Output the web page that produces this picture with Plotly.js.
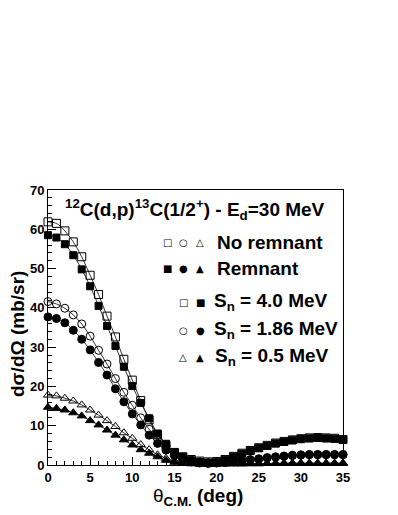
<!DOCTYPE html>
<html>
<head>
<meta charset="utf-8">
<script src="https://cdn.plot.ly/plotly-3.0.1.min.js"></script>
<style>
  html, body { margin: 0; padding: 0; background: #fff; }
  #plot { width: 398px; height: 515px; }
</style>
</head>
<body>
<div id="plot"></div>
<script>
// angles (deg, C.M.)
const theta = [0, 1, 2, 3, 4, 5, 6, 7, 8, 9, 10, 11, 12, 13, 14, 15, 16, 17,
  18, 19, 20, 21, 22, 23, 24, 25, 26, 27, 28, 29, 30, 31, 32, 33, 34, 35];

// S_n = 4.0 MeV
const noRem40 = [61.9, 61.5, 59.6, 56.8, 53.0, 48.3, 43.4, 37.9, 32.6, 26.9, 21.6, 16.4,
  11.5, 7.8, 5.0, 3.2, 2.1, 1.4, 1.0, 0.8, 0.9, 1.4, 2.2, 3.0, 3.7, 4.4, 5.0, 5.6,
  6.0, 6.4, 6.7, 6.9, 7.0, 6.9, 6.8, 6.5];
const rem40 = [58.5, 57.9, 56.2, 53.4, 49.8, 45.5, 40.5, 35.4, 30.3, 25.0, 20.1, 15.8,
  11.9, 8.0, 5.4, 3.3, 2.0, 1.2, 0.8, 0.6, 0.7, 1.3, 2.1, 2.9, 3.6, 4.3, 4.9, 5.5,
  5.9, 6.3, 6.6, 6.8, 6.9, 6.8, 6.7, 6.4];

// S_n = 1.86 MeV
const noRem186 = [41.6, 41.0, 39.9, 38.2, 35.9, 32.8, 29.2, 25.7, 22.0, 18.5, 15.2, 12.0,
  9.1, 6.8, 4.8, 3.2, 2.0, 1.2, 0.8, 0.6, 0.6, 0.7, 0.9, 1.1, 1.4, 1.6, 1.9, 2.1,
  2.3, 2.5, 2.6, 2.7, 2.7, 2.7, 2.7, 2.7];
const rem186 = [37.7, 37.3, 36.2, 34.3, 32.0, 29.3, 26.1, 22.9, 19.4, 16.1, 13.0, 10.2,
  7.6, 5.5, 3.8, 2.4, 1.4, 0.8, 0.5, 0.4, 0.5, 0.6, 0.8, 1.0, 1.3, 1.5, 1.8, 2.0,
  2.2, 2.4, 2.5, 2.6, 2.6, 2.6, 2.6, 2.6];

// S_n = 0.5 MeV
const noRem05 = [17.8, 17.6, 17.0, 16.3, 15.3, 14.0, 12.7, 11.3, 9.8, 8.2, 6.8, 5.2,
  3.9, 2.6, 1.7, 1.1, 0.7, 0.5, 0.4, 0.3, 0.3, 0.3, 0.3, 0.3, 0.4, 0.4, 0.4, 0.4,
  0.5, 0.5, 0.5, 0.5, 0.5, 0.5, 0.5, 0.5];
const rem05 = [14.7, 14.4, 14.0, 13.3, 12.5, 11.3, 10.2, 8.9, 7.6, 6.4, 5.1, 3.9,
  3.0, 2.1, 1.2, 0.7, 0.4, 0.3, 0.2, 0.2, 0.2, 0.3, 0.3, 0.3, 0.3, 0.3, 0.4, 0.4,
  0.4, 0.4, 0.4, 0.4, 0.4, 0.4, 0.4, 0.4];

const FONT = "Liberation Sans, Arial, Helvetica, sans-serif";
const SYMFONT = "DejaVu Sans, sans-serif";

function serie(y, symbol, size) {
  return {
    x: theta, y: y,
    mode: "lines+markers",
    line: { color: "black", width: 0.8, shape: "spline" },
    marker: { symbol: symbol, size: size, color: "black",
              line: { color: "black", width: 1 } },
    cliponaxis: false,
    showlegend: false,
    hoverinfo: "skip"
  };
}

const traces = [
  serie(noRem40, "square-open", 8),
  serie(noRem186, "circle-open", 8),
  serie(noRem05, "triangle-up-open", 8),
  serie(rem40, "square", 7),
  serie(rem186, "circle", 8),
  serie(rem05, "triangle-up", 8)
];

// plot frame in pixels: x 48..343, y 190..465
const px = (v) => (v - 48) / 295;
const py = (v) => (465 - v) / 275;

// legend rows: glyphs, their pixel x centres, row y, label, label x
const legendRows = [
  { syms: ["□", "○", "△"], sx: [167, 183, 200], y: 242, label: "No remnant", lx: 215 },
  { syms: ["■", "●", "▲"], sx: [167, 183, 200], y: 268, label: "Remnant", lx: 215 },
  { syms: ["□", "■"], sx: [183, 200], y: 302, label: "S<sub>n</sub> = 4.0 MeV", lx: 212 },
  { syms: ["○", "●"], sx: [183, 200], y: 330, label: "S<sub>n</sub> = 1.86 MeV", lx: 212 },
  { syms: ["△", "▲"], sx: [183, 200], y: 357, label: "S<sub>n</sub> = 0.5 MeV", lx: 213 }
];

const annotations = [];
annotations.push({
  xref: "paper", yref: "paper", x: px(63), y: py(209),
  xanchor: "left", yanchor: "middle", showarrow: false,
  text: "<b><sup>12</sup>C(d,p)<sup>13</sup>C(1/2<sup>+</sup>) - E<sub>d</sub>=30 MeV</b>",
  font: { family: FONT, size: 19, color: "black" }
});
legendRows.forEach((r) => {
  r.syms.forEach((s, i) => {
    annotations.push({
      xref: "paper", yref: "paper", x: px(r.sx[i]), y: py(r.y),
      xanchor: "center", yanchor: "middle", showarrow: false,
      text: s, font: { family: SYMFONT, size: 10, color: "black" }
    });
  });
  annotations.push({
    xref: "paper", yref: "paper", x: px(r.lx), y: py(r.y),
    xanchor: "left", yanchor: "middle", showarrow: false,
    text: "<b>" + r.label + "</b>",
    font: { family: FONT, size: 19, color: "black" }
  });
});
// axis titles
annotations.push({
  xref: "paper", yref: "paper", x: px(17), y: py(334),
  xanchor: "center", yanchor: "middle", showarrow: false, textangle: -90,
  text: "<b>dσ/dΩ (mb/sr)</b>",
  font: { family: FONT, size: 19, color: "black" }
});
annotations.push({
  xref: "paper", yref: "paper", x: px(198), y: py(497),
  xanchor: "center", yanchor: "middle", showarrow: false,
  text: "θ<sub><b>C.M.</b></sub><b> (deg)</b>",
  font: { family: FONT, size: 19, color: "black" }
});

const axisCommon = {
  showgrid: false, zeroline: false,
  showline: true, linecolor: "black", linewidth: 1, mirror: true,
  ticks: "inside", ticklen: 8, tickwidth: 1, tickcolor: "black",
  tickfont: { family: FONT, size: 13, color: "black", weight: "bold" }
};

const layout = {
  width: 398, height: 515,
  margin: { l: 48, r: 55, t: 190, b: 50 },
  paper_bgcolor: "white", plot_bgcolor: "white",
  showlegend: false,
  xaxis: Object.assign({}, axisCommon, {
    range: [0, 35], dtick: 5, tick0: 0,
    minor: { dtick: 1, ticks: "inside", ticklen: 4, tickcolor: "black" }
  }),
  yaxis: Object.assign({}, axisCommon, {
    range: [0, 70], dtick: 10, tick0: 0,
    minor: { dtick: 2, ticks: "inside", ticklen: 4, tickcolor: "black" }
  }),
  annotations: annotations
};

Plotly.newPlot("plot", traces, layout, { staticPlot: true, displayModeBar: false });
</script>
</body>
</html>
